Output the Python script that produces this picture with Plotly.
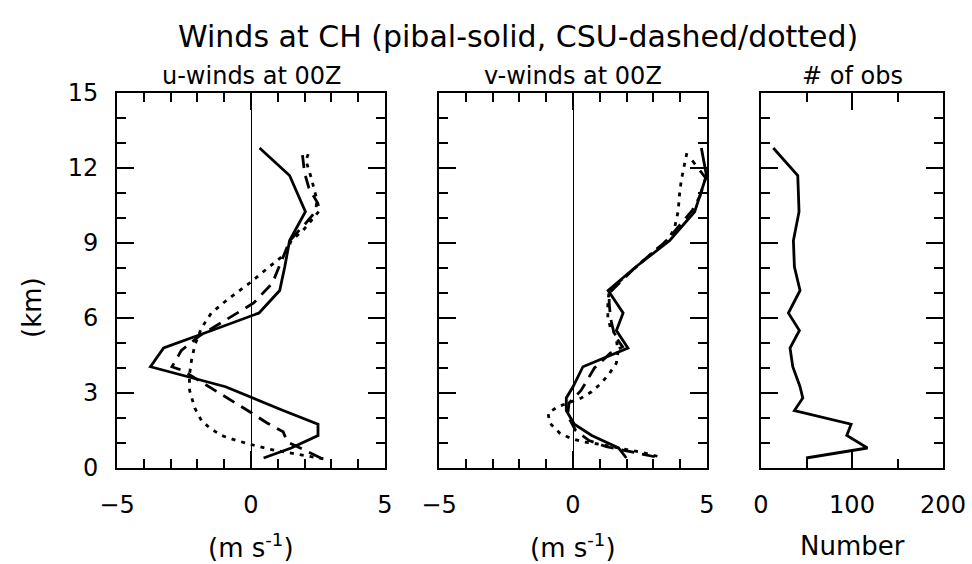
import plotly.graph_objects as go

# ---------------- data ----------------
# pibal (solid) levels, km
pibal_z = [0.4, 0.8, 1.3, 1.75, 2.3, 2.8, 3.25, 4.05, 4.8, 5.5, 6.2, 7.1, 8.05, 9.1, 10.25, 11.7, 12.8]
pibal_u = [0.47, 1.5, 2.5, 2.5, 1.2, 0.1, -0.95, -3.75, -3.26, -1.47, 0.3, 1.07, 1.26, 1.44, 2.03, 1.44, 0.32]
pibal_v = [1.99, 1.7, 0.7, 0.05, -0.25, -0.25, 0.0, 0.37, 2.05, 1.62, 1.87, 1.31, 2.35, 3.61, 4.54, 4.98, 4.79]
pibal_n = [49.5, 117, 94.3, 99, 36.7, 45.9, 42.9, 34.9, 31.9, 42.2, 30.1, 42.9, 36.7, 35.6, 41.8, 40.4, 13.5]

# CSU dashed u
csu_dash_u_z = [0.4, 1.05, 1.45, 1.8, 2.25, 3.05, 3.9, 4.05, 4.7, 5.3, 6.0, 6.6, 7.4, 8.4, 9.1, 9.8, 10.25, 10.65, 11.2, 11.8, 12.7]
csu_dash_u = [2.6, 1.35, 1.2, 0.6, -0.05, -1.25, -2.55, -2.95, -2.6, -1.9, -0.8, 0.1, 0.8, 1.2, 1.45, 2.05, 2.4, 2.46, 2.16, 2.0, 1.9]
# CSU dotted u
csu_dot_u_z = [0.37, 0.6, 0.75, 0.9, 1.1, 1.3, 1.6, 1.9, 2.4, 3.1, 3.7, 4.3, 4.9, 5.6, 6.2, 6.7, 7.1, 7.4, 8.0, 8.6, 9.1, 9.5, 10.3, 11.0, 11.6, 12.3, 12.75]
csu_dot_u = [2.7, 1.5, 0.7, 0.14, -0.54, -1.1, -1.54, -1.85, -2.1, -2.29, -2.3, -2.22, -2.1, -1.85, -1.48, -0.92, -0.42, -0.05, 0.63, 1.32, 1.5, 1.94, 2.56, 2.4, 2.25, 2.05, 2.2]

# CSU dashed v
csu_dash_v_z = [0.45, 0.65, 0.85, 1.1, 1.5, 2.1, 2.6, 3.1, 4.0, 4.6, 4.85, 5.3, 6.0, 6.6, 7.0, 8.0, 9.1, 10.3, 10.9, 11.6, 12.1, 12.3]
csu_dash_v = [3.05, 2.1, 1.25, 0.6, 0.1, -0.2, -0.15, 0.3, 0.8, 1.4, 1.85, 1.55, 1.4, 1.35, 1.35, 2.3, 3.5, 4.45, 4.75, 4.95, 4.6, 4.45]
# CSU dotted v
csu_dot_v_z = [0.47, 0.64, 0.8, 0.95, 1.05, 1.2, 1.4, 1.8, 2.2, 2.45, 2.8, 3.05, 3.4, 3.8, 4.2, 4.65, 5.3, 5.6, 6.0, 6.6, 7.1, 8.0, 9.2, 9.65, 10.25, 11.0, 11.5, 12.2, 12.8]
csu_dot_v = [3.15, 2.5, 1.7, 1.0, 0.37, -0.12, -0.5, -0.87, -0.93, -0.56, 0.31, 0.69, 1.06, 1.37, 1.62, 1.68, 1.6, 1.4, 1.3, 1.3, 1.35, 2.3, 3.6, 3.8, 3.92, 3.98, 4.04, 4.17, 4.29]

main_title = "Winds at CH (pibal-solid, CSU-dashed/dotted)"
panel_titles = ["u-winds at 00Z", "v-winds at 00Z", "# of obs"]
x_titles = ["(m s<sup>-1</sup>)", "(m s<sup>-1</sup>)", "Number"]
y_title = "(km)"
y_ticks = [0, 3, 6, 9, 12, 15]
wind_ticks = [-5, 0, 5]
obs_ticks = [0, 100, 200]

# ---------------- figure ----------------
FONT = "DejaVu Sans"
W, H = 972, 564
doms = [(117, 385), (439, 707), (761, 943)]
ytop, ybot = 93, 468
ydom = [1 - ybot / H, 1 - ytop / H]

fig = go.Figure()
lw = 2.8
solid = dict(color="black", width=lw)
dashed = dict(color="black", width=lw, dash="13px,8px")
dotted = dict(color="black", width=lw, dash="4px,6px")

fig.add_trace(go.Scatter(x=pibal_u, y=pibal_z, mode="lines", line=solid, xaxis="x", yaxis="y"))
fig.add_trace(go.Scatter(x=csu_dash_u, y=csu_dash_u_z, mode="lines", line=dashed, xaxis="x", yaxis="y"))
fig.add_trace(go.Scatter(x=csu_dot_u, y=csu_dot_u_z, mode="lines", line=dotted, xaxis="x", yaxis="y"))
fig.add_trace(go.Scatter(x=pibal_v, y=pibal_z, mode="lines", line=solid, xaxis="x2", yaxis="y2"))
fig.add_trace(go.Scatter(x=csu_dash_v, y=csu_dash_v_z, mode="lines", line=dashed, xaxis="x2", yaxis="y2"))
fig.add_trace(go.Scatter(x=csu_dot_v, y=csu_dot_v_z, mode="lines", line=dotted, xaxis="x2", yaxis="y2"))
fig.add_trace(go.Scatter(x=pibal_n, y=pibal_z, mode="lines", line=solid, xaxis="x3", yaxis="y3"))

tickfont = dict(family=FONT, size=24, color="black")

def xaxis(i, rng, ticks, minor_dtick, zeroline):
    return dict(
        domain=[doms[i][0] / W, doms[i][1] / W], range=rng, anchor="y" if i == 0 else f"y{i+1}",
        tickvals=ticks, ticks="inside", ticklen=17, tickwidth=2, tickcolor="black",
        minor=dict(dtick=minor_dtick, ticks="inside", ticklen=9, tickwidth=2, tickcolor="black"),
        showline=True, linewidth=2, linecolor="black", mirror="allticks",
        showgrid=False, zeroline=zeroline, zerolinewidth=1, zerolinecolor="black",
        tickfont=tickfont, ticklabelstandoff=14, fixedrange=True, automargin=False,
    )

def yaxis(i, show_labels):
    return dict(
        domain=ydom, range=[0, 15], anchor="x" if i == 0 else f"x{i+1}",
        tickvals=y_ticks, ticks="inside", ticklen=17, tickwidth=2, tickcolor="black",
        minor=dict(dtick=1, ticks="inside", ticklen=9, tickwidth=2, tickcolor="black"),
        showline=True, linewidth=2, linecolor="black", mirror="allticks",
        showgrid=False, zeroline=False, showticklabels=show_labels,
        tickfont=tickfont, ticklabelstandoff=12, fixedrange=True, automargin=False,
    )

fig.update_layout(
    width=W, height=H, margin=dict(l=0, r=0, t=0, b=0, autoexpand=False),
    paper_bgcolor="white", plot_bgcolor="white", showlegend=False,
    xaxis=xaxis(0, [-5, 5], wind_ticks, 1, True),
    xaxis2=xaxis(1, [-5, 5], wind_ticks, 1, True),
    xaxis3=xaxis(2, [0, 200], obs_ticks, 50, False),
    yaxis=yaxis(0, True), yaxis2=yaxis(1, False), yaxis3=yaxis(2, False),
)

def note(text, px, py, size, angle=0):
    return dict(text=text, x=px / W, y=1 - py / H, xref="paper", yref="paper",
                xanchor="center", yanchor="middle", textangle=angle,
                showarrow=False, font=dict(family=FONT, size=size, color="black"))

ann = [note(main_title, 518, 37, 30)]
for i in range(3):
    cx = (doms[i][0] + doms[i][1]) / 2
    ann.append(note(panel_titles[i], cx, 76, 24))
    ann.append(note(x_titles[i], cx, 546, 26))
ann.append(note(y_title, 32, 308, 26, -90))
fig.update_layout(annotations=ann)

fig.write_html("out.html", config={"displayModeBar": False},
               post_script="document.body.style.margin='0';document.body.style.padding='0';")
